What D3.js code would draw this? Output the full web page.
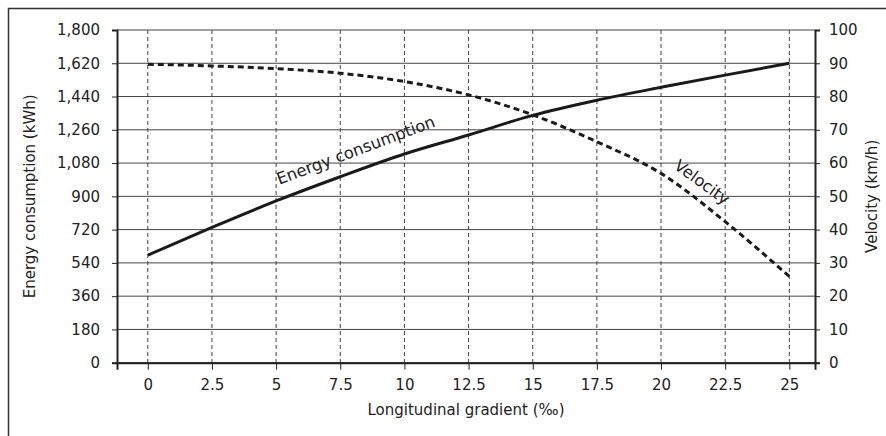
<!DOCTYPE html>
<html>
<head>
<meta charset="utf-8">
<script src="https://cdn.jsdelivr.net/npm/d3@7"></script>
<style>
  body { margin: 0; background: #fff; }
  svg { display: block; font-family: "DejaVu Sans", sans-serif; }
</style>
</head>
<body>
<svg id="chart" width="886" height="436"></svg>
<script>
// data
const gradient = [0, 2.5, 5, 7.5, 10, 12.5, 15, 17.5, 20, 22.5, 25];
const energy = [582, 732, 875, 1006, 1129, 1232, 1338, 1420, 1490, 1556, 1620];
const velocity = [89.7, 89.2, 88.4, 87.0, 84.5, 80.5, 74.5, 66.4, 56.9, 42.4, 25.9];
const xTicks = [0, 2.5, 5, 7.5, 10, 12.5, 15, 17.5, 20, 22.5, 25];
const energyTicks = [0, 180, 360, 540, 720, 900, 1080, 1260, 1440, 1620, 1800];
const velocityTicks = [0, 10, 20, 30, 40, 50, 60, 70, 80, 90, 100];

const svg = d3.select("#chart");
const plotL = 117, plotR = 815, plotT = 30, plotB = 362.7;

const x = d3.scaleLinear().domain([-1.2, 26]).range([plotL, plotR]);
const yE = d3.scaleLinear().domain([0, 1800]).range([plotB, plotT]);
const yV = d3.scaleLinear().domain([0, 100]).range([plotB, plotT]);

// outer frame (cropped)
svg.append("path")
  .attr("d", "M8.5,436V8.5H886")
  .attr("fill", "none")
  .attr("stroke", "#333")
  .attr("stroke-width", 1.5);

// horizontal grid
svg.append("g")
  .selectAll("line")
  .data(energyTicks)
  .join("line")
  .attr("x1", plotL).attr("x2", plotR)
  .attr("y1", d => yE(d)).attr("y2", d => yE(d))
  .attr("stroke", "#444")
  .attr("stroke-width", 1);

// vertical dashed grid
svg.append("g")
  .selectAll("line")
  .data(xTicks)
  .join("line")
  .attr("x1", d => x(d)).attr("x2", d => x(d))
  .attr("y1", plotT).attr("y2", plotB)
  .attr("stroke", "#444")
  .attr("stroke-width", 1)
  .attr("stroke-dasharray", "4,3");

// axes
const leftAxis = svg.append("g")
  .attr("transform", `translate(${plotL},0)`)
  .call(d3.axisLeft(yE).tickValues(energyTicks).tickSize(5).tickPadding(12)
    .tickFormat(d3.format(",")));
const rightAxis = svg.append("g")
  .attr("transform", `translate(${plotR},0)`)
  .call(d3.axisRight(yV).tickValues(velocityTicks).tickSize(5).tickPadding(9));
const bottomAxis = svg.append("g")
  .attr("transform", `translate(0,${plotB})`)
  .call(d3.axisBottom(x).tickValues(xTicks).tickSize(7).tickPadding(10).tickSizeOuter(7)
    .tickFormat(d => String(d)));

[leftAxis, rightAxis, bottomAxis].forEach(g => {
  g.select(".domain").attr("stroke", "#222").attr("stroke-width", 2);
  g.selectAll(".tick line").attr("stroke", "#222");
  g.selectAll("text").attr("font-size", 15).attr("fill", "#222")
    .attr("font-family", "DejaVu Sans, sans-serif");
});

// curves
const lineE = d3.line()
  .x((d, i) => x(gradient[i]))
  .y(d => yE(d))
  .curve(d3.curveMonotoneX);
const lineV = d3.line()
  .x((d, i) => x(gradient[i]))
  .y(d => yV(d))
  .curve(d3.curveMonotoneX);

svg.append("path")
  .datum(energy)
  .attr("d", lineE)
  .attr("fill", "none")
  .attr("stroke", "#1a1a1a")
  .attr("stroke-width", 3);

svg.append("path")
  .datum(velocity)
  .attr("d", lineV)
  .attr("fill", "none")
  .attr("stroke", "#1a1a1a")
  .attr("stroke-width", 3)
  .attr("stroke-dasharray", "6,4");

// curve labels
svg.append("text")
  .attr("transform", `translate(${x(8.1)},${yE(1150)}) rotate(-20.5)`)
  .attr("text-anchor", "middle")
  .attr("dy", "0.35em")
  .attr("font-size", 16.3)
  .attr("fill", "#222")
  .text("Energy consumption");

svg.append("text")
  .attr("transform", `translate(${x(21.6)},${yV(54.3)}) rotate(36)`)
  .attr("text-anchor", "middle")
  .attr("dy", "0.35em")
  .attr("font-size", 16.3)
  .attr("fill", "#222")
  .text("Velocity");

// axis titles
svg.append("text")
  .attr("transform", `translate(30,${(plotT + plotB) / 2}) rotate(-90)`)
  .attr("text-anchor", "middle")
  .attr("dy", "0.35em")
  .attr("font-size", 15)
  .attr("fill", "#222")
  .text("Energy consumption (kWh)");

svg.append("text")
  .attr("transform", `translate(872,${(plotT + plotB) / 2}) rotate(-90)`)
  .attr("text-anchor", "middle")
  .attr("dy", "0.35em")
  .attr("font-size", 15)
  .attr("fill", "#222")
  .text("Velocity (km/h)");

svg.append("text")
  .attr("x", (plotL + plotR) / 2)
  .attr("y", 410)
  .attr("text-anchor", "middle")
  .attr("dy", "0.35em")
  .attr("font-size", 15)
  .attr("fill", "#222")
  .text("Longitudinal gradient (‰)");
</script>
</body>
</html>
